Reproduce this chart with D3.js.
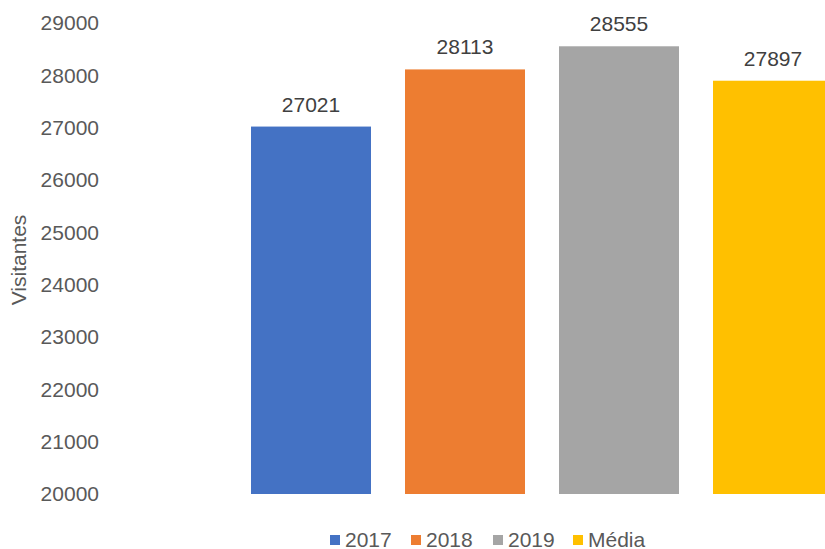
<!DOCTYPE html>
<html>
<head>
<meta charset="utf-8">
<script src="https://cdn.jsdelivr.net/npm/d3@7"></script>
<style>
  body { margin: 0; background: #fff; }
  svg { display: block; font-family: "Liberation Sans", Arial, sans-serif; }
</style>
</head>
<body>
<script>
// chart data
var categories = ["2017", "2018", "2019", "Média"];
var visitors = [27021, 28113, 28555, 27897];
var colors = ["#4472C4", "#ED7D31", "#A5A5A5", "#FFC000"];
var yTicks = [20000, 21000, 22000, 23000, 24000, 25000, 26000, 27000, 28000, 29000];

var width = 825, height = 549;

var svg = d3.select("body").append("svg")
    .attr("width", width)
    .attr("height", height);

// x scale (plot runs past the right edge, as in the original crop)
var x = d3.scaleBand()
    .domain(categories)
    .range([234, 850])
    .paddingInner(34 / 154)
    .paddingOuter(17 / 154);

// y scale
var y = d3.scaleLinear()
    .domain([20000, 29000])
    .range([494, 23]);

// y axis labels
var yAxis = svg.append("g")
    .attr("transform", "translate(99,0)")
    .call(d3.axisLeft(y).tickValues(yTicks).tickSize(0).tickPadding(0).tickFormat(d3.format("d")));
yAxis.select(".domain").remove();
yAxis.selectAll("text")
    .attr("fill", "#595959")
    .attr("font-size", "21px")
    .attr("font-family", "Liberation Sans, Arial, sans-serif");

// axis title
svg.append("text")
    .attr("transform", "translate(26,260) rotate(-90)")
    .attr("text-anchor", "middle")
    .attr("fill", "#595959")
    .attr("font-size", "21px")
    .text("Visitantes");

// bars
svg.selectAll("rect.bar")
  .data(visitors)
  .enter().append("rect")
    .attr("class", "bar")
    .attr("x", function(d, i) { return x(categories[i]); })
    .attr("width", x.bandwidth())
    .attr("y", function(d) { return y(d); })
    .attr("height", function(d) { return y(20000) - y(d); })
    .attr("fill", function(d, i) { return colors[i]; });

// value labels
svg.selectAll("text.value")
  .data(visitors)
  .enter().append("text")
    .attr("class", "value")
    .attr("x", function(d, i) { return x(categories[i]) + x.bandwidth() / 2; })
    .attr("y", function(d) { return y(d) - 15; })
    .attr("text-anchor", "middle")
    .attr("fill", "#404040")
    .attr("font-size", "21px")
    .text(function(d) { return d; });

// legend
var legend = svg.append("g")
    .attr("transform", "translate(330,535)");

var item = legend.selectAll("g")
  .data(categories)
  .enter().append("g")
    .attr("transform", function(d, i) { return "translate(" + [0, 81, 163, 243][i] + ",0)"; });

item.append("rect")
    .attr("width", 10)
    .attr("height", 10)
    .attr("fill", function(d, i) { return colors[i]; });

item.append("text")
    .attr("x", 15)
    .attr("y", 12)
    .attr("fill", "#595959")
    .attr("font-size", "21px")
    .text(function(d) { return d; });
</script>
</body>
</html>
